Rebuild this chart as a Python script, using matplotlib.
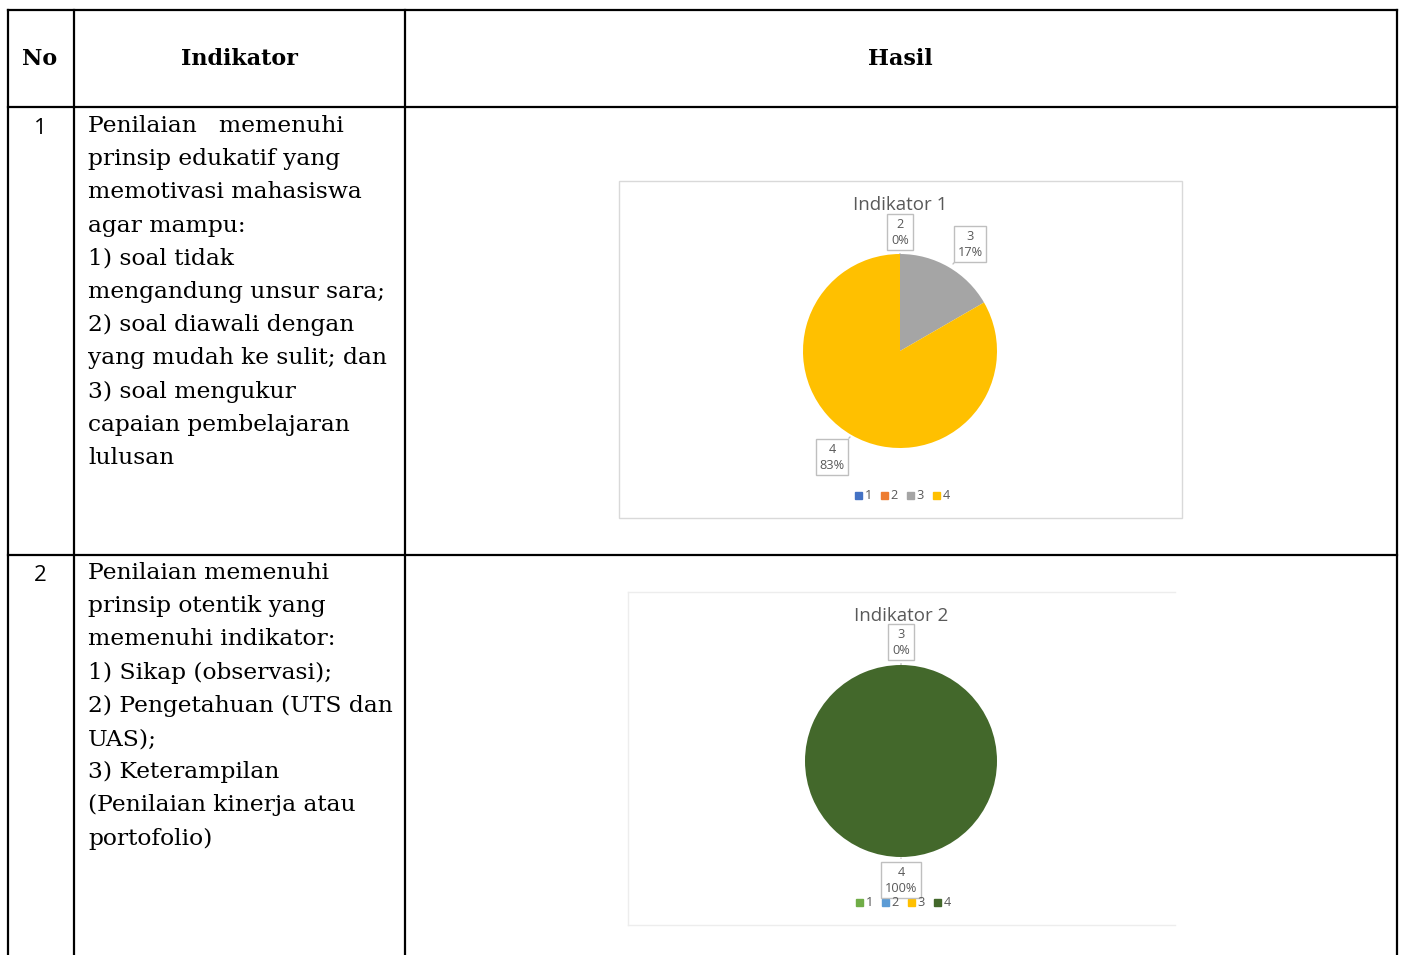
import numpy as np
import matplotlib.pyplot as plt

# data
headers = ['No', 'Indikator', 'Hasil']
row_no = ['1', '2']
row_text = [
    ['Penilaian   memenuhi', 'prinsip edukatif yang', 'memotivasi mahasiswa', 'agar mampu:',
     '1) soal tidak', 'mengandung unsur sara;', '2) soal diawali dengan',
     'yang mudah ke sulit; dan', '3) soal mengukur', 'capaian pembelajaran', 'lulusan'],
    ['Penilaian memenuhi', 'prinsip otentik yang', 'memenuhi indikator:', '1) Sikap (observasi);',
     '2) Pengetahuan (UTS dan', 'UAS);', '3) Keterampilan', '(Penilaian kinerja atau',
     'portofolio)'],
]
pie_titles = ['Indikator 1', 'Indikator 2']
categories = ['1', '2', '3', '4']
counts1 = [0, 0, 1, 5]
counts2 = [0, 0, 0, 6]
colors1 = ['#4472C4', '#ED7D31', '#A5A5A5', '#FFC000']
colors2 = ['#70AD47', '#5B9BD5', '#FFC000', '#43682B']

W, H = 1403, 955
fig = plt.figure(figsize=(W / 100, H / 100), dpi=100)
bg = fig.add_axes([0, 0, 1, 1])
bg.set_xlim(0, W)
bg.set_ylim(H, 0)
bg.axis('off')

# table grid
lw = 1.6
xs = [8, 74, 405, 1397]
for x in xs:
    bg.plot([x, x], [10, H + 5], color='black', lw=lw)
for y in [10, 107, 555]:
    bg.plot([8, 1397], [y, y], color='black', lw=lw)

serif = 'DejaVu Serif'
hx = [40, 239, 900]
for h, x in zip(headers, hx):
    bg.text(x, 59, h, ha='center', va='center', family=serif, fontsize=16, fontweight='bold')

row_top = [126, 573]
for no, lines, y0 in zip(row_no, row_text, row_top):
    bg.text(40, y0 + 2, no, ha='center', va='center', family='Open Sans', fontsize=16)
    for i, ln in enumerate(lines):
        bg.text(88, y0 + i * 33.2, ln, ha='left', va='center', family=serif, fontsize=16.8)


def px_axes(x0, y0, x1, y1):
    return fig.add_axes([x0 / W, 1 - y1 / H, (x1 - x0) / W, (y1 - y0) / H])


def chart(box, title, title_y, counts, colors, center, r, labels, legend_y, show_border):
    x0, y0, x1, y1 = box
    if show_border:
        bg.add_patch(plt.Rectangle((x0, y0), x1 - x0, y1 - y0, fill=False, ec='#D9D9D9', lw=1))
    else:
        bg.plot([x0, x0], [y0, y1], color='#EDEDED', lw=1)
        bg.plot([x0, x1], [y0, y0], color='#EDEDED', lw=1)
        bg.plot([x0, x1], [y1, y1], color='#EDEDED', lw=1)
    bg.text((x0 + x1) / 2, title_y, title, ha='center', va='center', family='Open Sans',
            fontsize=13.5, color='#595959')
    cx, cy = center
    ax = px_axes(cx - r, cy - r, cx + r, cy + r)
    ax.pie(counts, colors=colors, startangle=90, counterclock=False,
           wedgeprops=dict(linewidth=0))
    ax.set_aspect('equal')
    ax.set_xlim(-1, 1)
    ax.set_ylim(-1, 1)
    total = sum(counts)
    for idx, (lx, ly, tx, ty) in labels.items():
        pct = round(100 * counts[idx] / total)
        bg.annotate('%s\n%d%%' % (categories[idx], pct), xy=(tx, ty), xytext=(lx, ly),
                    ha='center', va='center', fontsize=9.2, color='#595959',
                    family='Open Sans', linespacing=1.3,
                    bbox=dict(boxstyle='square,pad=0.3', fc='white', ec='#BFBFBF', lw=1),
                    arrowprops=dict(arrowstyle='-', color='#BFBFBF', lw=1))
    # legend
    lx0 = cx - 45
    for i, (c, col) in enumerate(zip(categories, colors)):
        x = lx0 + i * 26
        bg.add_patch(plt.Rectangle((x, legend_y - 3.5), 7, 7, color=col))
        bg.text(x + 9.5, legend_y, c, ha='left', va='center', fontsize=9.2,
                color='#595959', family='Open Sans')


chart((619, 181, 1182, 518), pie_titles[0], 205, counts1, colors1, (900, 351), 97,
      {1: (900, 232, 900, 254), 2: (970, 244, 953, 264), 3: (832, 457, 850, 437)},
      495, True)
chart((628, 592, 1175, 925), pie_titles[1], 616, counts2, colors2, (901, 761), 96,
      {2: (901, 642, 901, 665), 3: (901, 880, 901, 858)},
      902, False)

fig.savefig('out.png', dpi=100)
